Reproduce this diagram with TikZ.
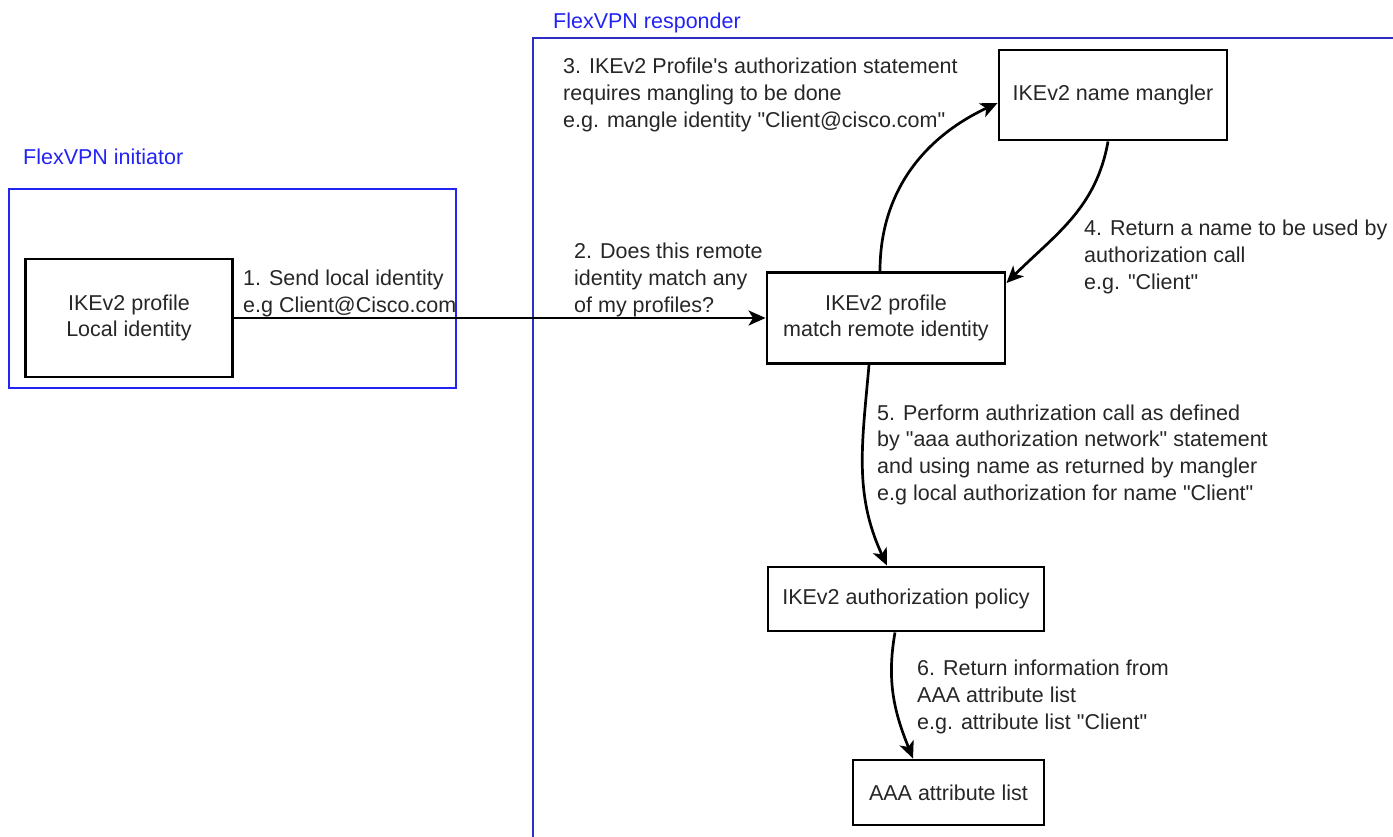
\documentclass[tikz,border=0pt]{standalone}
\usepackage{fontspec}
\setmainfont{Liberation Sans}[Ligatures=TeXOff]
\usetikzlibrary{arrows.meta}

\definecolor{initblue}{RGB}{35,35,245}
\definecolor{respblue}{RGB}{45,45,195}

\begin{document}
\begin{tikzpicture}[x=1pt,y=1pt,
        font=\fontsize{21.5}{26.7}\selectfont,
        box/.style={draw=black,line width=2.9pt,inner sep=0pt,align=center,text=black!85},
        note/.style={anchor=west,inner sep=0pt,align=left,text=black!85},
        tag/.style={anchor=west,inner sep=0pt,text=initblue},
        frame/.style={draw=#1,line width=2.8pt},
        flow/.style={draw=black,line width=2.7pt,-{Stealth[length=17pt,width=15pt,inset=4.5pt]}}]
            \useasboundingbox (0,0) rectangle (1393,-837);

            % frames (y in pixels, negated)
            \draw [frame=initblue] (9,-189) rectangle (456,-388);
            \draw [frame=respblue] (533,-837) -- (533,-38) -- (1393,-38);
            \node [tag] (initlabel) at (23,-157) {FlexVPN initiator};
            \node [tag] (resplabel) at (553,-23) {FlexVPN responder};

            % boxes
            \node [box,minimum width=207pt,minimum height=118pt] (initprof) at (129,-318) {IKEv2 profile\\Local identity};
            \node [box,minimum width=238pt,minimum height=91pt] (matchprof) at (886,-318) {IKEv2 profile\\match remote identity};
            \node [box,minimum width=228pt,minimum height=90pt] (mangler) at (1113,-95) {IKEv2 name mangler};
            \node [box,minimum width=276pt,minimum height=64pt] (policy) at (906,-599) {IKEv2 authorization policy};
            \node [box,minimum width=191pt,minimum height=65pt] (aaa) at (948.5,-792.5) {AAA attribute list};

            % step texts
            \node [note] (step1) at (243,-293.5) {1. Send local identity\\e.g Client@Cisco.com};
            \node [note] (step2) at (574,-280) {2. Does this remote\\identity match any\\of my profiles?};
            \node [note] (step3) at (563,-95) {3. IKEv2 Profile's authorization statement\\requires mangling to be done\\e.g. mangle identity "Client@cisco.com"};
            \node [note] (step4) at (1084,-257) {4. Return a name to be used by\\authorization call\\e.g. "Client"};
            \node [note] (step5) at (877,-454.5) {5. Perform authrization call as defined\\by "aaa authorization network" statement\\and using name as returned by mangler\\e.g local authorization for name "Client"};
            \node [note] (step6) at (917,-697) {6. Return information from\\AAA attribute list\\e.g. attribute list "Client"};

            % arrows
            \draw [flow] (initprof.east) -- (matchprof.west);
            \draw [flow] ([xshift=-6pt]matchprof.north) to[out=90,in=205] ([yshift=-8pt]mangler.west);
            \draw [flow] ([xshift=-5pt]mangler.south) to[out=-100,in=45] ([yshift=-12pt]matchprof.north east);
            \draw [flow] ([xshift=-17pt]matchprof.south) to[out=-95,in=115] ([xshift=-19pt]policy.north);
            \draw [flow] ([xshift=-11pt]policy.south) to[out=-100,in=112] ([xshift=-35.5pt]aaa.north);
        \end{tikzpicture}
\end{document}
